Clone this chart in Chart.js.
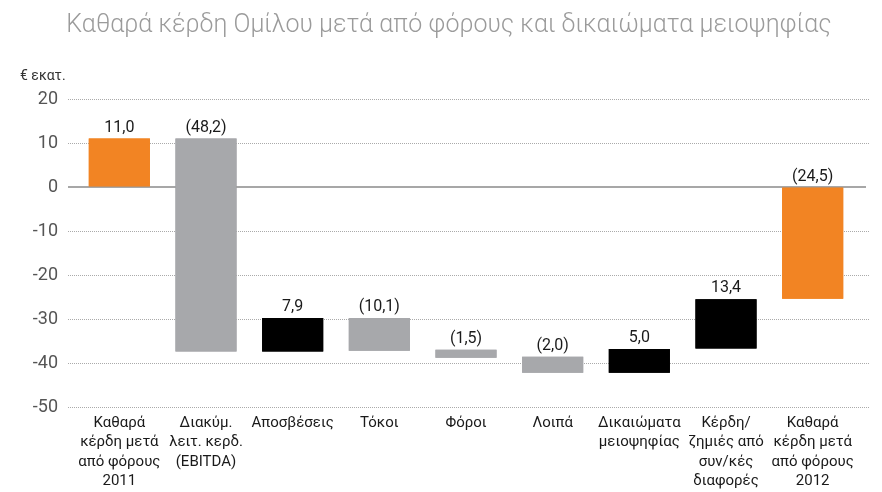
<!DOCTYPE html>
<html>
<head>
<meta charset="utf-8">
<script src="https://cdn.jsdelivr.net/npm/chart.js@4"></script>
<style>
  html, body { margin: 0; padding: 0; background: #fff; }
  #wrap { width: 882px; height: 492px; }
</style>
</head>
<body>
<div id="wrap"><canvas id="waterfall"></canvas></div>
<script>
// categories (multi-line labels)
const categories = [
    ['Καθαρά', 'κέρδη μετά', 'από φόρους', '2011'],
    ['Διακύμ.', 'λειτ. κερδ.', '(EBITDA)'],
    ['Αποσβέσεις'],
    ['Τόκοι'],
    ['Φόροι'],
    ['Λοιπά'],
    ['Δικαιώματα', 'μειοψηφίας'],
    ['Κέρδη/', 'ζημιές από', 'συν/κές', 'διαφορές'],
    ['Καθαρά', 'κέρδη μετά', 'από φόρους', '2012']
];
// floating bar ends
const barStart = [0, 11.0, -37.4, -29.8, -37.0, -38.6, -42.2, -36.7, 0];
const barEnd = [11.0, -37.4, -29.8, -37.2, -38.8, -42.2, -36.8, -25.5, -25.4];
const valueLabels = ['11,0', '(48,2)', '7,9', '(10,1)', '(1,5)', '(2,0)', '5,0', '13,4', '(24,5)'];
const barKind = ['total', 'down', 'up', 'down', 'down', 'down', 'up', 'up', 'total'];
const yTicks = [20, 10, 0, -10, -20, -30, -40, -50];

const kindColors = { total: '#f28423', down: '#a7a8ab', up: '#000000' };
const fontFamily = 'Roboto, "Noto Sans", sans-serif';

const extras = {
    id: 'extras',
    afterDraw(chart) {
        const ctx = chart.ctx;
        const area = chart.chartArea;
        const y = chart.scales.y;
        ctx.save();

        // title
        ctx.fillStyle = '#9b9b9b';
        ctx.font = '300 25px ' + fontFamily;
        ctx.textAlign = 'center';
        ctx.textBaseline = 'middle';
        ctx.fillText('Καθαρά κέρδη Ομίλου μετά από φόρους και δικαιώματα μειοψηφίας', 449, 26);

        // unit
        ctx.fillStyle = '#333';
        ctx.font = '14px ' + fontFamily;
        ctx.textAlign = 'left';
        ctx.fillText('€ εκατ.', 20, 76);

        // grid extension on the right
        ctx.strokeStyle = '#aaa';
        ctx.lineWidth = 1;
        ctx.setLineDash([1, 1]);
        yTicks.forEach(v => {
            if (v === 0) return;
            const py = Math.round(y.getPixelForValue(v)) + 0.5;
            ctx.beginPath();
            ctx.moveTo(area.right, py);
            ctx.lineTo(area.right + 14, py);
            ctx.stroke();
        });

        // zero line
        ctx.setLineDash([]);
        ctx.strokeStyle = '#8a8a8a';
        ctx.lineWidth = 1.5;
        const zy = y.getPixelForValue(0);
        ctx.beginPath();
        ctx.moveTo(area.left - 8, zy);
        ctx.lineTo(area.right + 10, zy);
        ctx.stroke();

        // redraw bars over the zero line
        chart.getDatasetMeta(0).data.forEach(bar => bar.draw(ctx, area));

        // value labels
        ctx.fillStyle = '#1a1a1a';
        ctx.font = '16px ' + fontFamily;
        ctx.textAlign = 'center';
        ctx.textBaseline = 'bottom';
        chart.getDatasetMeta(0).data.forEach((bar, i) => {
            const top = Math.min(bar.y, bar.base);
            ctx.fillText(valueLabels[i], bar.x, top - 3);
        });
        ctx.restore();
    }
};

new Chart(document.getElementById('waterfall'), {
    type: 'bar',
    data: {
        labels: categories,
        datasets: [{
            data: barStart.map((s, i) => [s, barEnd[i]]),
            backgroundColor: barKind.map(k => kindColors[k]),
            borderWidth: 0,
            borderSkipped: false,
            categoryPercentage: 1,
            barPercentage: 0.705
        }]
    },
    options: {
        responsive: true,
        maintainAspectRatio: false,
        animation: false,
        layout: { padding: { top: 99, right: 26, bottom: 0, left: 0 } },
        plugins: {
            legend: { display: false },
            title: { display: false },
            tooltip: { enabled: false }
        },
        scales: {
            x: {
                afterFit(scale) { scale.height = 85; },
                grid: { display: false, drawTicks: false },
                border: { display: false },
                ticks: {
                    color: '#1a1a1a',
                    padding: 6,
                    maxRotation: 0,
                    autoSkip: false,
                    font: { family: fontFamily, size: 15, lineHeight: 1.3 }
                }
            },
            y: {
                min: -50,
                max: 20,
                afterFit(scale) { scale.width = 76; },
                afterBuildTicks(scale) { scale.ticks = yTicks.map(v => ({ value: v })); },
                border: { display: false, dash: [1, 1] },
                grid: {
                    color: ctx => ctx.tick && ctx.tick.value === 0 ? 'rgba(0,0,0,0)' : '#aaa',
                    tickColor: ctx => ctx.tick && ctx.tick.value === 0 ? 'rgba(0,0,0,0)' : '#aaa',
                    lineWidth: 1,
                    tickLength: 8,
                    tickBorderDash: [1, 1]
                },
                ticks: {
                    color: '#555',
                    padding: 10,
                    font: { family: fontFamily, size: 18 }
                }
            }
        }
    },
    plugins: [extras]
});
</script>
</body>
</html>
